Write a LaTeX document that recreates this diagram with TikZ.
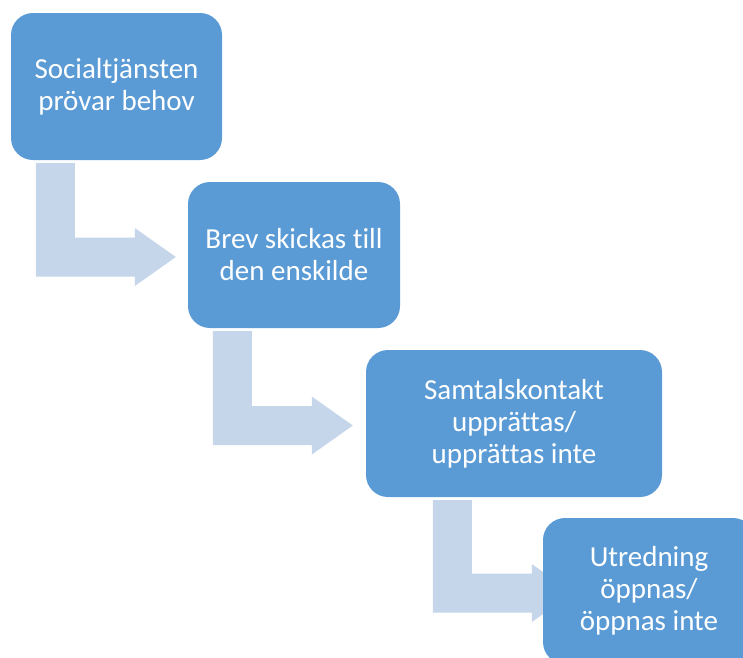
\documentclass[tikz,border=0pt]{standalone}
\usepackage{fontspec}
\setmainfont{Carlito}[Ligatures=NoCommon]
\usepackage{tikz}
\usetikzlibrary{calc, backgrounds}
\definecolor{boxblue}{RGB}{91,155,213}
\definecolor{arrowblue}{RGB}{197,213,234}
\tikzset{
  box/.style={rounded corners=22pt, fill=boxblue, text=white, align=center,
    minimum width=212pt, minimum height=147pt, inner sep=0pt,
    font=\fontsize{29}{32}\selectfont},
}
\newcommand{\bentarrow}[3]{%
  \fill[arrowblue] let \p1=(#1.south west), \p2=(#2.west) in
    ({\x1+#3}, {\y1-3pt}) -- ({\x1+#3+39pt}, {\y1-3pt})
    -- ({\x1+#3+39pt}, {\y2-2pt+19.5pt}) -- ({\x1+#3+99pt}, {\y2-2pt+19.5pt})
    -- ({\x1+#3+99pt}, {\y2-2pt+29pt}) -- ({\x1+#3+140pt}, {\y2-2pt})
    -- ({\x1+#3+99pt}, {\y2-2pt-29pt}) -- ({\x1+#3+99pt}, {\y2-2pt-19.5pt})
    -- ({\x1+#3}, {\y2-2pt-19.5pt}) -- cycle;}

\begin{document}
\begin{tikzpicture}[x=1pt, y=-1pt]
      \useasboundingbox (0,0) rectangle (743,657);
      \clip (0,0) rectangle (743,657);

      \node[box, minimum width=211pt] (behov) at (116.5,86.5) {Socialtjänsten\\prövar behov};
      \node[box, minimum height=146pt] (brev) at (294,255) {Brev skickas till\\den enskilde};
      \node[box, minimum width=296pt] (samtal) at (514,423.5) {Samtalskontakt\\upprättas/\\upprättas inte};
      \node[box, minimum height=146pt] (utred) at (649,591) {Utredning\\öppnas/\\öppnas inte};

      \begin{scope}[on background layer]
        \bentarrow{behov}{brev}{25pt}
        \bentarrow{brev}{samtal}{25pt}
        \bentarrow{samtal}{utred}{67pt}
      \end{scope}
\end{tikzpicture}
\end{document}
